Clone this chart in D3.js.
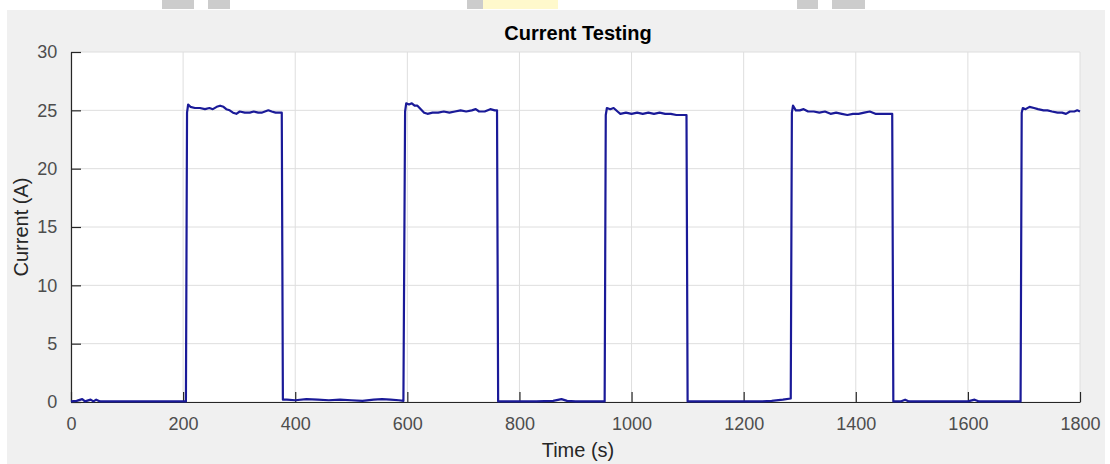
<!DOCTYPE html>
<html>
<head>
<meta charset="utf-8">
<script src="https://cdn.jsdelivr.net/npm/d3@7"></script>
<style>
  body { margin: 0; background: #fff; }
  svg { display: block; font-family: "Liberation Sans", Arial, sans-serif; }
</style>
</head>
<body>
<div id="chart"></div>
<script>
// time (s) and current (A)
var times = [
  0, 10, 20, 25, 35, 40, 45, 52, 80, 120, 160, 205,
  207, 209, 213, 221, 230, 239, 247, 253, 260, 266, 272, 277, 283, 289, 295, 301, 310, 319, 326, 334, 340, 346, 352, 358, 365, 372, 376,
  378, 385, 400, 420, 440, 460, 480, 500, 520, 540, 555, 570, 585, 593,
  596, 598, 603, 608, 613, 618, 624, 630, 636, 645, 655, 665, 675, 685, 695, 705, 715, 722, 728, 738, 748, 756, 760,
  762, 780, 800, 830, 860, 875, 885, 900, 930, 952,
  954, 956, 962, 968, 975, 980, 990, 1000, 1010, 1020, 1030, 1040, 1050, 1060, 1070, 1080, 1090, 1098,
  1100, 1130, 1160, 1200, 1230, 1250, 1270, 1284,
  1286, 1288, 1293, 1300, 1307, 1315, 1325, 1335, 1345, 1355, 1365, 1375, 1385, 1395, 1405, 1415, 1425, 1435, 1445, 1455, 1465,
  1467, 1480, 1488, 1495, 1530, 1560, 1600, 1612, 1620, 1660, 1694,
  1696, 1698, 1703, 1710, 1718, 1725, 1735, 1742, 1750, 1760, 1768, 1775, 1782, 1790, 1795, 1800
];
var current = [
  0.05, 0.1, 0.25, 0.05, 0.2, 0.05, 0.2, 0.05, 0.05, 0.05, 0.05, 0.05,
  24.8, 25.5, 25.3, 25.2, 25.2, 25.1, 25.2, 25.1, 25.3, 25.4, 25.3, 25.1, 25.0, 24.8, 24.7, 24.9, 24.8, 24.8, 24.9, 24.8, 24.8, 24.9, 25.0, 24.9, 24.8, 24.8, 24.8,
  0.2, 0.2, 0.15, 0.25, 0.2, 0.15, 0.2, 0.15, 0.1, 0.2, 0.25, 0.2, 0.15, 0.1,
  24.9, 25.6, 25.5, 25.6, 25.4, 25.4, 25.1, 24.8, 24.7, 24.8, 24.8, 24.9, 24.8, 24.9, 25.0, 24.9, 25.0, 25.1, 24.9, 24.9, 25.1, 25.0, 25.0,
  0.05, 0.05, 0.05, 0.05, 0.1, 0.25, 0.1, 0.05, 0.05, 0.05,
  24.6, 25.2, 25.1, 25.2, 24.9, 24.7, 24.8, 24.7, 24.8, 24.7, 24.8, 24.7, 24.8, 24.7, 24.7, 24.6, 24.6, 24.6,
  0.05, 0.05, 0.05, 0.05, 0.05, 0.1, 0.2, 0.3,
  24.8, 25.4, 25.0, 25.0, 25.1, 24.9, 24.9, 24.8, 24.9, 24.7, 24.8, 24.7, 24.6, 24.7, 24.7, 24.8, 24.9, 24.7, 24.7, 24.7, 24.7,
  0.05, 0.05, 0.2, 0.05, 0.05, 0.05, 0.05, 0.2, 0.05, 0.05, 0.05,
  24.8, 25.2, 25.1, 25.3, 25.2, 25.1, 25.0, 25.0, 24.9, 24.8, 24.8, 24.7, 24.9, 24.9, 25.0, 24.9
];
var xTicks = [0, 200, 400, 600, 800, 1000, 1200, 1400, 1600, 1800];
var yTicks = [0, 5, 10, 15, 20, 25, 30];

var width = 1110, height = 464;
var margin = { left: 71, right: 30, top: 52, bottom: 62 };

var svg = d3.select("#chart").append("svg")
    .attr("width", width)
    .attr("height", height);

// grey figure background
svg.append("rect")
    .attr("x", 7).attr("y", 10)
    .attr("width", 1098).attr("height", height - 10)
    .attr("fill", "#f0f0f0");

// bits of the page above the figure
var strip = [[162, 32, "#cccccc"], [208, 22, "#cccccc"], [467, 16, "#cccccc"], [483, 75, "#fff9cc"], [797, 21, "#cccccc"], [832, 33, "#cccccc"]];
svg.selectAll(".strip").data(strip).enter().append("rect")
    .attr("x", function (d) { return d[0]; })
    .attr("y", 0)
    .attr("width", function (d) { return d[1]; })
    .attr("height", 9)
    .attr("fill", function (d) { return d[2]; });

var x = d3.scaleLinear().domain([0, 1800]).range([margin.left, width - margin.right]);
var y = d3.scaleLinear().domain([0, 30]).range([height - margin.bottom, margin.top]);

svg.append("rect")
    .attr("x", x(0)).attr("y", y(30))
    .attr("width", x(1800) - x(0)).attr("height", y(0) - y(30))
    .attr("fill", "#fff");

// grid
svg.append("g").selectAll("line").data(xTicks).enter().append("line")
    .attr("x1", function (d) { return x(d); }).attr("x2", function (d) { return x(d); })
    .attr("y1", y(0)).attr("y2", y(30))
    .attr("stroke", "#dedede").attr("stroke-width", 1);
svg.append("g").selectAll("line").data(yTicks).enter().append("line")
    .attr("x1", x(0)).attr("x2", x(1800))
    .attr("y1", function (d) { return y(d); }).attr("y2", function (d) { return y(d); })
    .attr("stroke", "#dedede").attr("stroke-width", 1);

// axes, ticks pointing inward like matlab
var xAxis = svg.append("g")
    .attr("transform", "translate(0," + y(0) + ")")
    .call(d3.axisBottom(x).tickValues(xTicks).tickFormat(d3.format("d"))
        .tickSizeInner(-10).tickSizeOuter(0).tickPadding(20));
var yAxis = svg.append("g")
    .attr("transform", "translate(" + x(0) + ",0)")
    .call(d3.axisLeft(y).tickValues(yTicks).tickFormat(d3.format("d"))
        .tickSizeInner(-10).tickSizeOuter(0).tickPadding(20));

[xAxis, yAxis].forEach(function (a) {
    a.select(".domain").attr("stroke", "#262626").attr("stroke-width", 1.2);
    a.selectAll(".tick line").attr("stroke", "#262626").attr("stroke-width", 1.2);
    a.selectAll(".tick text").attr("fill", "#4d4d4d").style("font-size", "18px");
});
xAxis.selectAll(".tick text").attr("dy", "0.45em");
yAxis.selectAll(".tick text").attr("dx", "0.35em");

var line = d3.line()
    .x(function (d, i) { return x(times[i]); })
    .y(function (d) { return y(d); });

svg.append("path")
    .datum(current)
    .attr("d", line)
    .attr("fill", "none")
    .attr("stroke", "#1a1a98")
    .attr("stroke-width", 2.2)
    .attr("stroke-linejoin", "round");

svg.append("text")
    .attr("x", 578).attr("y", 40)
    .attr("text-anchor", "middle")
    .style("font-size", "20px").style("font-weight", "bold")
    .attr("fill", "#000")
    .text("Current Testing");

svg.append("text")
    .attr("x", 578).attr("y", 457)
    .attr("text-anchor", "middle")
    .style("font-size", "20px")
    .attr("fill", "#262626")
    .text("Time (s)");

svg.append("text")
    .attr("transform", "translate(28," + ((y(0) + y(30)) / 2) + ")rotate(-90)")
    .attr("text-anchor", "middle")
    .style("font-size", "20px")
    .attr("fill", "#262626")
    .text("Current (A)");
</script>
</body>
</html>
